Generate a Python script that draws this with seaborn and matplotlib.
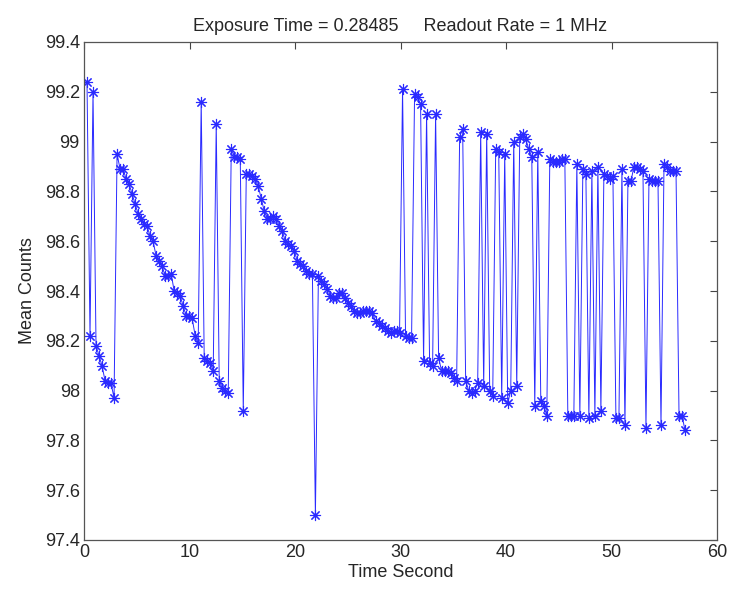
import numpy as np
import matplotlib
matplotlib.use("Agg")
import matplotlib.pyplot as plt
import matplotlib.ticker as mticker
import seaborn as sns

# ==============================================================================
# DATA — mean counts per frame, one frame every exposure time
# ==============================================================================
EXPOSURE = 0.28485

mean_counts = [
    # frames 1-38
    99.24, 98.22, 99.20, 98.18, 98.14, 98.10, 98.04, 98.03, 98.03, 97.97,
    98.95, 98.89, 98.89, 98.85, 98.83, 98.79, 98.75, 98.71, 98.69, 98.67,
    98.66, 98.62, 98.60, 98.54, 98.52, 98.50, 98.46, 98.46, 98.47, 98.40,
    98.39, 98.38, 98.34, 98.30, 98.30, 98.29, 98.22, 98.19,
    # frames 39-77
    99.16, 98.13, 98.12, 98.11, 98.08, 99.07, 98.04, 98.01, 98.00, 97.99,
    98.97, 98.94, 98.94, 98.93, 97.92, 98.87, 98.87, 98.86, 98.85, 98.82,
    98.77, 98.72, 98.69, 98.69, 98.70, 98.69, 98.66, 98.64, 98.60, 98.59,
    98.58, 98.56, 98.52, 98.51, 98.50, 98.48, 98.47, 98.47, 97.50,
    # frames 78-105
    98.46, 98.44, 98.43, 98.41, 98.38, 98.37, 98.37, 98.39, 98.39, 98.37,
    98.35, 98.34, 98.32, 98.31, 98.31, 98.32, 98.32, 98.32, 98.31, 98.28,
    98.27, 98.26, 98.25, 98.24, 98.23, 98.24, 98.24, 98.23,
    # frames 106-154
    99.21, 98.22, 98.21, 98.21, 99.19, 99.18, 99.15, 98.12, 99.11, 98.11,
    98.10, 99.11, 98.13, 98.08, 98.08, 98.08, 98.07, 98.05, 98.04, 99.02,
    99.05, 98.04, 98.00, 97.99, 98.00, 98.03, 99.04, 98.02, 99.03, 98.00,
    97.98, 98.97, 98.96, 97.97, 98.95, 97.95, 98.00, 99.00, 98.02, 99.02,
    99.03, 99.01, 98.97, 98.94, 97.94, 98.96, 97.96, 97.94, 97.90,
    # frames 155-200
    98.93, 98.92, 98.92, 98.92, 98.93, 98.93, 97.90, 97.90, 97.90, 98.91,
    97.90, 98.89, 98.87, 97.89, 98.88, 97.90, 98.90, 97.92, 98.87, 98.86,
    98.85, 98.86, 97.89, 97.89, 98.89, 97.86, 98.84, 98.84, 98.90, 98.90,
    98.89, 98.88, 97.85, 98.85, 98.84, 98.84, 98.84, 97.86, 98.91, 98.90,
    98.88, 98.88, 98.88, 97.90, 97.90, 97.84,
]

frame_no = np.arange(1, len(mean_counts) + 1)
time_s = frame_no * EXPOSURE

x_ticks = [0, 10, 20, 30, 40, 50, 60]
y_ticks = [97.4, 97.6, 97.8, 98.0, 98.2, 98.4, 98.6, 98.8, 99.0, 99.2, 99.4]

# ==============================================================================
# STYLE — MATLAB-like look
# ==============================================================================
sns.set_theme(style="white")
plt.rcParams["font.family"] = ["Liberation Sans", "DejaVu Sans"]
plt.rcParams["xtick.direction"] = "in"
plt.rcParams["ytick.direction"] = "in"
plt.rcParams["xtick.top"] = True
plt.rcParams["ytick.right"] = True

fig = plt.figure(figsize=(7.32, 5.92), dpi=100)
ax = fig.add_axes([84 / 732, 1 - 540 / 592, (717 - 84) / 732, (540 - 42) / 592])

line_blue = "#2a2aff"
sns.lineplot(
    x=time_s, y=mean_counts, ax=ax,
    color=line_blue, linewidth=0.7,
    marker=(8, 2, 0), markersize=8, markeredgewidth=0.8,
    markeredgecolor=line_blue,
)

ax.set_xlim(0, 60)
ax.set_ylim(97.4, 99.4)
ax.set_xticks(x_ticks)
ax.set_yticks(y_ticks)
ax.yaxis.set_major_formatter(mticker.FormatStrFormatter("%g"))
ax.tick_params(axis="both", which="both", length=5, width=0.8,
               color="#444444", labelsize=13, pad=3)

for spine in ax.spines.values():
    spine.set_color("#555555")
    spine.set_linewidth(0.9)

ax.set_xlabel("Time Second", fontsize=13, labelpad=2)
ax.set_ylabel("Mean Counts", fontsize=13, labelpad=6)
ax.set_title("Exposure Time = 0.28485     Readout Rate = 1 MHz",
             fontsize=13, pad=8)

fig.savefig("out.png", dpi=100)
